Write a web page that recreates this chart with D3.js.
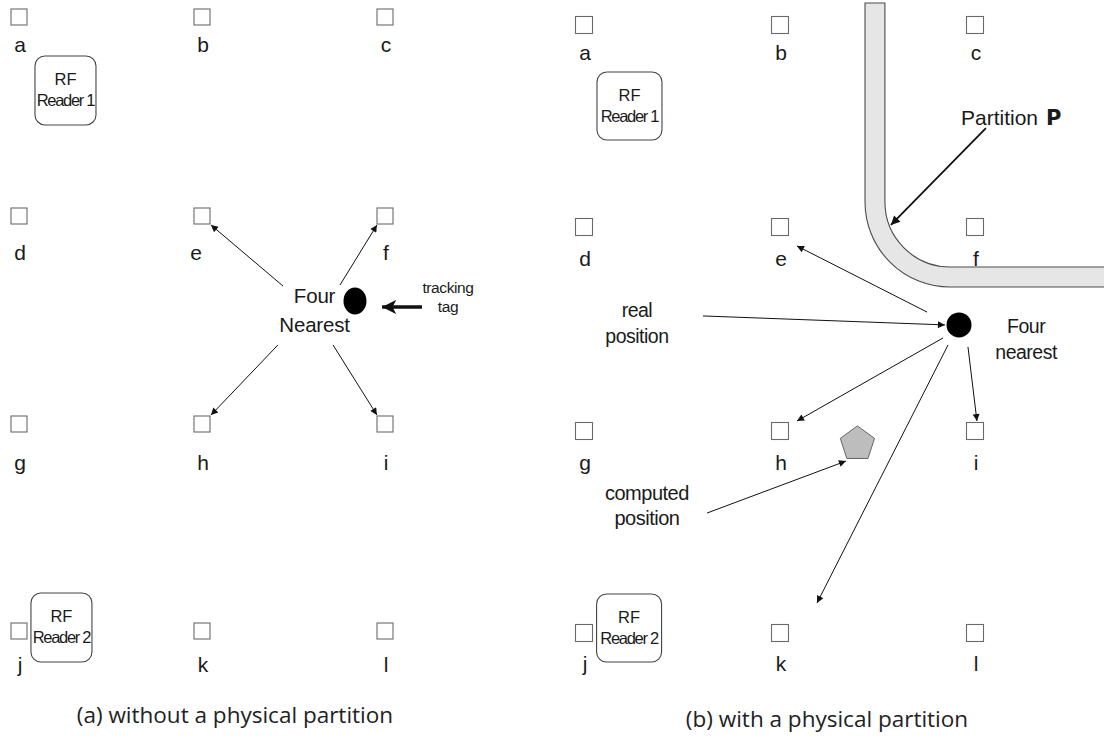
<!DOCTYPE html>
<html>
<head>
<meta charset="utf-8">
<script src="https://cdn.jsdelivr.net/npm/d3@7"></script>
<style>
  body { margin: 0; background: #fff; }
  svg { display: block; }
  text { font-family: "Liberation Sans", Arial, sans-serif; fill: #1a1a1a; }
  .caption { font-family: "Open Sans", sans-serif; font-size: 22.5px; fill: #222; }
</style>
</head>
<body>
<script>
// grid of reference tags, in grid units (column, row)
const tagLabels = ["a", "b", "c", "d", "e", "f", "g", "h", "i", "j", "k", "l"];
const gridCols = [0, 1, 2];
const gridRows = [0, 1, 2, 3];

const readerNames = ["Reader 1", "Reader 2"];
const readerPosA = [[0.254, 0.369], [0.232, 2.983]];
const readerPosB = [[0.232, 0.401], [0.230, 2.975]];

// tracking tag (real position) and computed position
const trackPosA = [1.836, 1.409];
const trackPosB = [1.918, 1.480];
const computedPosB = [1.397, 2.064];

// arrows: [u1, v1, u2, v2] in grid units
const arrowsA = [
  [1.443, 1.337, 1.049, 1.043],
  [1.754, 1.332, 1.956, 1.043],
  [1.415, 1.620, 1.049, 1.957],
  [1.716, 1.620, 1.956, 1.957]
];
const tagArrowA = [2.202, 1.4375, 1.984, 1.4375];
const arrowsB = [
  [1.754, 1.417, 1.087, 1.093],
  [1.836, 1.544, 1.087, 1.951],
  [1.964, 1.588, 2.010, 1.951],
  [1.862, 1.578, 1.190, 2.851]
];
const realArrowB = [0.607, 1.436, 1.846, 1.480];
const computedArrowB = [0.628, 2.406, 1.338, 2.149];
const partitionArrowB = [2.056, 0.510, 1.569, 0.990];

// partition wall: outer/inner left edge, right end; top, outer/inner bottom edge
const wallU = [1.436, 1.538, 2.8];
const wallV = [-0.109, 1.294, 1.196];

const captions = ["(a) without a physical partition", "(b) with a physical partition"];

const width = 1104, height = 742;

const svg = d3.select("body").append("svg")
    .attr("width", width)
    .attr("height", height);

const defs = svg.append("defs");
function marker(id, w, h, d) {
    defs.append("marker")
        .attr("id", id)
        .attr("viewBox", "0 0 10 10")
        .attr("refX", 10).attr("refY", 5)
        .attr("markerUnits", "userSpaceOnUse")
        .attr("markerWidth", w).attr("markerHeight", h)
        .attr("orient", "auto")
        .append("path")
        .attr("d", d)
        .attr("fill", "#111");
}
marker("head", 10, 7, "M0,0L10,5L0,10z");
marker("headMid", 13, 9, "M0,0L10,5L0,10z");
marker("headBig", 14, 16, "M0,0L10,5L0,10L2.5,5z");

const panelA = {
    x: d3.scaleLinear().domain(gridCols).range([19, 202, 385]),
    y: d3.scaleLinear().domain(gridRows).range([17, 216, 424, 631]),
    sq: 16, labelDy: [35, 44, 46, 41], box: [61, 69]
};
const panelB = {
    x: d3.scaleLinear().domain(gridCols).range([584, 780, 975]),
    y: d3.scaleLinear().domain(gridRows).range([25, 227, 431, 633]),
    sq: 17, labelDy: [35, 39, 39, 38], box: [65, 68]
};

const tags = tagLabels.map((t, i) => ({ t, col: gridCols[i % 3], row: gridRows[Math.floor(i / 3)] }));

function drawArrows(g, p, data, cls) {
    g.selectAll(null)
        .data(data)
        .enter().append("line")
        .attr("x1", d => p.x(d[0])).attr("y1", d => p.y(d[1]))
        .attr("x2", d => p.x(d[2])).attr("y2", d => p.y(d[3]))
        .attr("stroke", "#111")
        .attr("stroke-width", cls.w)
        .attr("marker-end", `url(#${cls.m})`);
}

function twoLines(g, x, y, lines, size, gap, spacing) {
    const t = g.append("text")
        .attr("x", x).attr("y", y)
        .attr("text-anchor", "middle")
        .attr("font-size", size)
        .attr("letter-spacing", spacing || 0);
    lines.forEach((l, i) => {
        t.append("tspan").attr("x", x).attr("dy", i === 0 ? 0 : gap).text(l);
    });
    return t;
}

function drawGrid(g, p, leftPanel) {
    g.selectAll(".tag")
        .data(tags)
        .enter().append("rect")
        .attr("class", "tag")
        .attr("x", d => p.x(d.col) - p.sq / 2)
        .attr("y", d => p.y(d.row) - p.sq / 2)
        .attr("width", p.sq).attr("height", p.sq)
        .attr("fill", "#fff")
        .attr("stroke", "#6a6a6a")
        .attr("stroke-width", 1.1);

    g.selectAll(".lbl")
        .data(tags)
        .enter().append("text")
        .attr("class", "lbl")
        .attr("x", d => p.x(d.col) + (leftPanel && d.t === "e" ? -6 : 1))
        .attr("y", d => p.y(d.row) + p.labelDy[d.row])
        .attr("text-anchor", "middle")
        .attr("font-size", 21)
        .text(d => d.t);
}

function drawReaders(g, p, pos) {
    const r = g.selectAll(".reader")
        .data(pos)
        .enter().append("g")
        .attr("class", "reader")
        .attr("transform", d => `translate(${p.x(d[0])},${p.y(d[1])})`);
    r.append("rect")
        .attr("x", -p.box[0] / 2).attr("y", -p.box[1] / 2)
        .attr("width", p.box[0]).attr("height", p.box[1])
        .attr("rx", 10)
        .attr("fill", "#fff")
        .attr("stroke", "#444")
        .attr("stroke-width", 1.1);
    r.append("text")
        .attr("y", -p.box[1] / 2 + 29)
        .attr("text-anchor", "middle")
        .attr("font-size", 16.5)
        .text("RF");
    r.append("text")
        .attr("y", -p.box[1] / 2 + 50)
        .attr("text-anchor", "middle")
        .attr("font-size", 16.5)
        .attr("letter-spacing", -1.3)
        .text((d, i) => readerNames[i]);
}

// ---- (a) without a physical partition
const gA = svg.append("g");
drawGrid(gA, panelA, true);
drawReaders(gA, panelA, readerPosA);
drawArrows(gA, panelA, arrowsA, { w: 1, m: "head" });
drawArrows(gA, panelA, [tagArrowA], { w: 3.5, m: "headBig" });

gA.append("ellipse")
    .attr("cx", panelA.x(trackPosA[0]))
    .attr("cy", panelA.y(trackPosA[1]))
    .attr("rx", 11.5).attr("ry", 13.5)
    .attr("fill", "#000");

twoLines(gA, panelA.x(1.615), panelA.y(1.418), ["Four", "Nearest"], 20.5, 29, -0.2);
twoLines(gA, panelA.x(2.344), panelA.y(1.370), ["tracking", "tag"], 15.5, 19, -0.4);

gA.append("text")
    .attr("class", "caption")
    .attr("x", panelA.x(1.180))
    .attr("y", panelA.y(3.444))
    .attr("text-anchor", "middle")
    .text(captions[0]);

// ---- (b) with a physical partition
const gB = svg.append("g");

// partition wall
const xo = panelB.x(wallU[0]), xi = panelB.x(wallU[1]), xe = panelB.x(wallU[2]);
const yt = panelB.y(wallV[0]), yo = panelB.y(wallV[1]), yi = panelB.y(wallV[2]);
const R = 85, r = R - (xi - xo);
const wall = d3.path();
wall.moveTo(xo, yt);
wall.lineTo(xo, yo - R);
wall.arcTo(xo, yo, xo + R, yo, R);
wall.lineTo(xe, yo);
wall.lineTo(xe, yi);
wall.lineTo(xi + r, yi);
wall.arcTo(xi, yi, xi, yi - r, r);
wall.lineTo(xi, yt);
wall.closePath();
gB.append("path")
    .attr("d", wall.toString())
    .attr("fill", "#e6e6e6")
    .attr("stroke", "#4a4a4a")
    .attr("stroke-width", 1.1);

drawGrid(gB, panelB, false);
drawReaders(gB, panelB, readerPosB);
drawArrows(gB, panelB, arrowsB, { w: 1, m: "head" });
drawArrows(gB, panelB, [realArrowB, computedArrowB], { w: 1, m: "head" });
drawArrows(gB, panelB, [partitionArrowB], { w: 1.8, m: "headMid" });

gB.append("circle")
    .attr("cx", panelB.x(trackPosB[0]))
    .attr("cy", panelB.y(trackPosB[1]))
    .attr("r", 12.5)
    .attr("fill", "#000");

const pc = [panelB.x(computedPosB[0]), panelB.y(computedPosB[1])];
const pent = d3.range(5).map(k => {
    const a = -Math.PI / 2 + k * 2 * Math.PI / 5;
    return [pc[0] + 18 * Math.cos(a), pc[1] + 18 * Math.sin(a)];
});
gB.append("path")
    .attr("d", d3.line()(pent) + "Z")
    .attr("fill", "#bdbdbd")
    .attr("stroke", "#666")
    .attr("stroke-width", 1);

twoLines(gB, panelB.x(2.262), panelB.y(1.520), ["Four", "nearest"], 19.5, 26, -0.5);
twoLines(gB, panelB.x(0.270), panelB.y(1.441), ["real", "position"], 19.5, 26, -0.5);
twoLines(gB, panelB.x(0.321), panelB.y(2.342), ["computed", "position"], 20, 25, -0.5);

const pt = gB.append("text")
    .attr("x", panelB.x(1.928))
    .attr("y", panelB.y(0.495))
    .attr("font-size", 21)
    .text("Partition");
pt.append("tspan")
    .attr("dx", 8)
    .attr("font-family", "DejaVu Sans")
    .attr("font-weight", "bold")
    .attr("font-size", 21)
    .text("P");

gB.append("text")
    .attr("class", "caption")
    .attr("x", panelB.x(1.241))
    .attr("y", panelB.y(3.465))
    .attr("text-anchor", "middle")
    .text(captions[1]);
</script>
</body>
</html>
